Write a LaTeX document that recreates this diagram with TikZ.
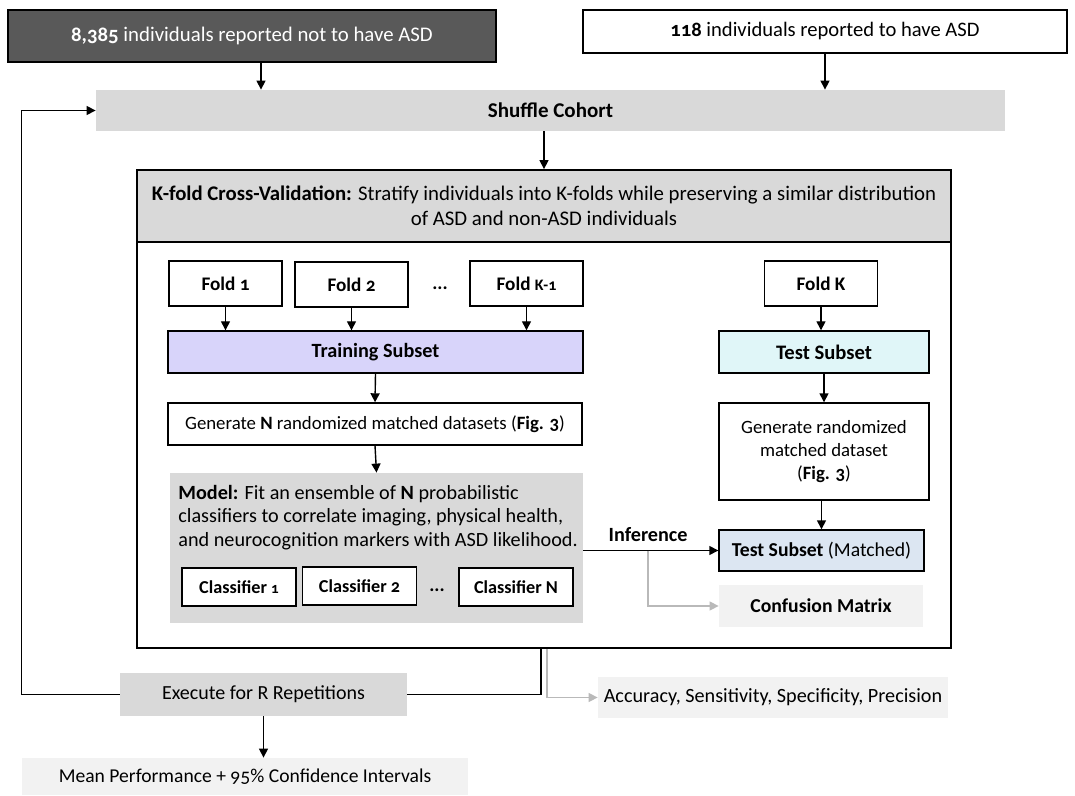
\documentclass[tikz,border=0pt]{standalone}
\usepackage{fontspec}
\setmainfont{Carlito}[Numbers=OldStyle]
\usetikzlibrary{arrows.meta}
\definecolor{darkbox}{HTML}{595959}
\definecolor{midgray}{HTML}{D9D9D9}
\definecolor{palegray}{HTML}{F2F2F2}
\definecolor{trainfill}{HTML}{D8D4FA}
\definecolor{testfill}{HTML}{E0F6F8}
\definecolor{matchfill}{HTML}{DCE6F2}
\newcommand{\sz}[2]{\fontsize{#1}{#2}\selectfont}

\begin{document}
\begin{tikzpicture}[x=0.5pt, y=-0.5pt, >={Triangle[length=4.5pt,width=4.5pt]},
  box/.style={draw, line width=0.7pt, fill=white, inner sep=2pt, font=\sz{9.4}{11.3}, align=center},
  fold/.style={box, font=\sz{9.6}{11.5}\bfseries, minimum width=56.5pt, minimum height=22.5pt},
  clf/.style={box, font=\sz{9.1}{11}\bfseries, minimum width=57pt, minimum height=19pt},
  flat/.style={inner sep=2pt, font=\sz{10}{12}, align=center},
  link/.style={->, line width=0.7pt},
  glink/.style={->, line width=0.7pt, gray!55}]
  \useasboundingbox (0,0) rectangle (1075,796);
  % Cohort
  \node[box, fill=darkbox, text=white, font=\sz{10.4}{12.5}, minimum width=244pt, minimum height=26pt] (nonasd) at (252,36) {\textbf{8,385} individuals reported not to have ASD};
  \node[box, font=\sz{10.3}{12.4}, minimum width=242pt, minimum height=21.5pt] (asd) at (825,31.5) {\textbf{118} individuals reported to have ASD};
  \node[flat, fill=midgray, font=\sz{10.5}{12.6}\bfseries, minimum width=454.5pt, minimum height=20.5pt] (shuffle) at (550.5,110.5) {Shuffle Cohort};
  \draw[link] (nonasd.south -| 261,0) -- (shuffle.north -| 261,0);
  \draw[link] (asd.south) -- (asd.south |- shuffle.north);
  % K-fold cross-validation
  \node[draw, line width=0.9pt, minimum width=407pt, minimum height=239pt] (kfold) at (544,409) {};
  \node[draw, line width=0.9pt, fill=midgray, font=\sz{10.4}{12.6}, align=center, minimum width=407pt, minimum height=36pt] (header) at (544,206)
    {\textbf{K-fold Cross-Validation:} Stratify individuals into K-folds while preserving a similar distribution\\ of ASD and non-ASD individuals};
  \draw[link] (shuffle.south -| kfold.north) -- (kfold.north);
  % Folds
  \node[fold] (f1) at (225.5,283.5) {Fold 1};
  \node[fold] (f2) at (351.5,284.5) {Fold 2};
  \node[font=\sz{9.6}{11.5}\bfseries] (fdots) at (440,288) {...};
  \node[fold] (fkm) at (526.5,283.5) {Fold {\sz{8}{9}K-1}};
  \node[fold] (fk) at (821,283.5) {Fold K};
  % Training branch
  \node[box, fill=trainfill, font=\sz{10.1}{12}\bfseries, minimum width=207.5pt, minimum height=21pt] (train) at (375.5,352) {Training Subset};
  \foreach \f in {f1,f2,fkm}
    \draw[link] (\f.south) -- (\f.south |- train.north);
  \node[box, minimum width=207pt, minimum height=21pt] (gen) at (375,424) {Generate \textbf{N} randomized matched datasets (\textbf{Fig. 3})};
  \draw[link] (train.south) -- (gen.north);
  \node[flat, fill=midgray, minimum width=206.5pt, minimum height=75pt] (model) at (376.5,548) {};
  \node[flat, font=\sz{10.1}{11.7}, anchor=north west, align=left] (modeltext) at (174,481)
    {\textbf{Model:} Fit an ensemble of \textbf{N} probabilistic\\ classifiers to correlate imaging, physical health,\\ and neurocognition markers with ASD likelihood.};
  \draw[link] (gen.south) -- (model.north);
  \node[clf] (c1) at (239,587) {Classifier {\sz{7.5}{9}1}};
  \node[clf] (c2) at (359.5,586) {Classifier 2};
  \node[font=\sz{9.6}{11.5}\bfseries] (cdots) at (437,590) {...};
  \node[clf] (cn) at (516,587) {Classifier N};
  % Test branch
  \node[box, fill=testfill, font=\sz{10.3}{12.4}\bfseries, minimum width=105pt, minimum height=21pt] (testsub) at (824,352) {Test Subset};
  \draw[link] (fk.south) -- (fk.south |- testsub.north);
  \node[box, minimum width=105pt, minimum height=48.5pt] (gentest) at (824,451.5) {Generate randomized\\ matched dataset\\ (\textbf{Fig. 3})};
  \draw[link] (testsub.south) -- (gentest.north);
  \node[box, fill=matchfill, font=\sz{9.85}{11.8}, minimum width=102.5pt, minimum height=20.5pt] (matched) at (821.5,550.5) {\textbf{Test Subset} (Matched)};
  \draw[link] (gentest.south -| matched.north) -- (matched.north);
  \node[flat, fill=palegray, font=\sz{9.85}{11.8}\bfseries, minimum width=102pt, minimum height=21pt] (confusion) at (821,606) {Confusion Matrix};
  % Inference
  \draw[link] (model.east |- matched.west) -- coordinate[pos=0.48] (infb) (matched.west);
  \node[font=\sz{10.1}{12}\bfseries, above=1pt] (inflabel) at (infb) {Inference};
  \draw[glink] (infb) |- (confusion.west);
  % Repetitions and outputs
  \node[flat, fill=midgray, minimum width=143.5pt, minimum height=21.5pt] (exec) at (263.5,694.5) {Execute for R Repetitions};
  \node[flat, fill=palegray, font=\sz{10.1}{12}, minimum width=175pt, minimum height=20.5pt] (metrics) at (773,697.5) {Accuracy, Sensitivity, Specificity, Precision};
  \node[flat, fill=palegray, font=\sz{9.8}{11.8}, minimum width=223pt, minimum height=18.5pt] (mean) at (245,776.5) {Mean Performance + 95\% Confidence Intervals};
  \draw[line width=0.7pt] (kfold.south -| 541,0) |- (exec.east);
  \draw[link] (exec.west) -| ([xshift=-37pt]shuffle.west) -- (shuffle.west);
  \draw[glink] (kfold.south -| 547,0) |- (metrics.west);
  \draw[link] (exec.south) -- (exec.south |- mean.north);
\end{tikzpicture}
\end{document}
